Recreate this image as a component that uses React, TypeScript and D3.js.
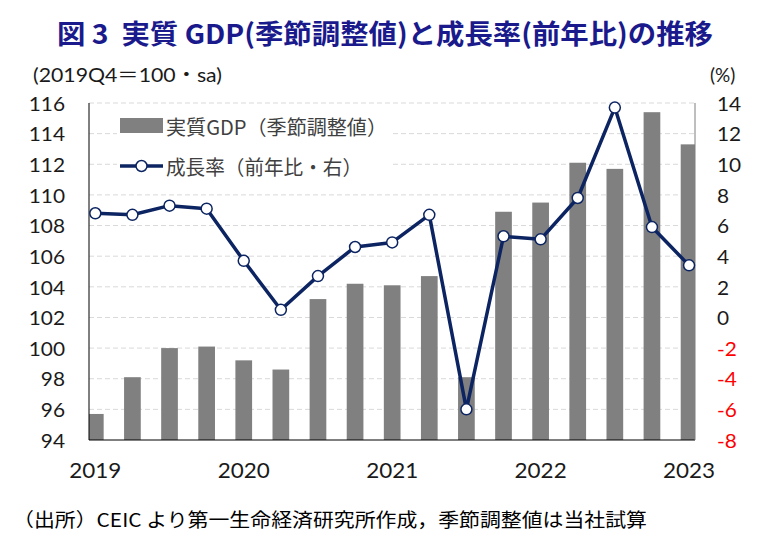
import * as d3 from "d3";

// quarterly series, 2019Q1 .. 2023Q1
const quarters = [
  "2019Q1", "2019Q2", "2019Q3", "2019Q4",
  "2020Q1", "2020Q2", "2020Q3", "2020Q4",
  "2021Q1", "2021Q2", "2021Q3", "2021Q4",
  "2022Q1", "2022Q2", "2022Q3", "2022Q4",
  "2023Q1",
];
// real GDP, seasonally adjusted (2019Q4 = 100)
const gdpLevel = [
  95.7, 98.1, 100.0, 100.1,
  99.2, 98.6, 103.2, 104.2,
  104.1, 104.7, 98.1, 108.9,
  109.5, 112.1, 111.7, 115.4,
  113.3,
];
// growth rate, year on year (%)
const growthYoY = [
  6.8, 6.7, 7.3, 7.1,
  3.7, 0.5, 2.7, 4.6,
  4.9, 6.7, -6.0, 5.3,
  5.1, 7.8, 13.7, 5.9,
  3.4,
];
const leftTicks = [94, 96, 98, 100, 102, 104, 106, 108, 110, 112, 114, 116];
const rightTicks = [-8, -6, -4, -2, 0, 2, 4, 6, 8, 10, 12, 14];
const yearLabels = ["2019", "2020", "2021", "2022", "2023"];

const title = "図 3  実質 GDP(季節調整値)と成長率(前年比)の推移";
const unitLeft = "(2019Q4＝100・sa)";
const unitRight = "(%)";
const legendBar = "実質GDP（季節調整値）";
const legendLine = "成長率（前年比・右）";
const source = "（出所）CEIC より第一生命経済研究所作成，季節調整値は当社試算";

const W = 772;
const H = 540;
const plot = { left: 89, right: 695, top: 103, bottom: 440 };

const NUM_FONT = "Lato, 'Open Sans', sans-serif";
const JP_FONT = "'Noto Sans CJK JP', sans-serif";
const NAVY = "#0c2461";
const BAR = "#808080";
const INK = "#1a1a1a";

// tick label, slightly widened to get the broad digits of the original face
function Num(props: { x: number; y: number; anchor: string; size: number; fill: string; text: string }) {
  return (
    <text
      transform={`translate(${props.x},${props.y}) scale(1.07,1)`}
      textAnchor={props.anchor}
      dominantBaseline="central"
      fontFamily={NUM_FONT}
      fontSize={props.size}
      fill={props.fill}
    >
      {props.text}
    </text>
  );
}

export default function App() {
  const x = d3.scaleLinear().domain([-0.17, 16.16]).range([plot.left, plot.right]);
  const yL = d3.scaleLinear().domain([94, 116]).range([plot.bottom, plot.top]);
  const yR = d3.scaleLinear().domain([-8, 14]).range([plot.bottom, plot.top]);
  const step = x(1) - x(0);
  const barW = step * 0.45;

  const line = d3
    .line<number>()
    .x((_, i) => x(i))
    .y((d) => yR(d));

  return (
    <svg
      width={W}
      height={H}
      style={{ position: "absolute", left: 0, top: 0, background: "#fff" }}
    >
      <defs>
        <clipPath id="plot-clip">
          <rect
            x={plot.left}
            y={plot.top}
            width={plot.right - plot.left}
            height={plot.bottom - plot.top}
          />
        </clipPath>
      </defs>

      {/* title */}
      <text
        x={57}
        y={32}
        dominantBaseline="central"
        fontFamily={JP_FONT}
        fontWeight="bold"
        fontSize={27}
        fill="#1a1a8c"
        textLength={656}
        lengthAdjust="spacingAndGlyphs"
        style={{ whiteSpace: "pre" }}
      >
        {title}
      </text>

      {/* units */}
      <text
        x={33}
        y={74}
        dominantBaseline="central"
        fontFamily={`Lato, ${JP_FONT}`}
        fontSize={19}
        fill={INK}
        textLength={189}
        lengthAdjust="spacingAndGlyphs"
      >
        {unitLeft}
      </text>
      <text
        x={710}
        y={74}
        dominantBaseline="central"
        fontFamily={NUM_FONT}
        fontSize={19}
        fill={INK}
      >
        {unitRight}
      </text>

      {/* gridlines */}
      {leftTicks
        .filter((t) => t !== 94)
        .map((t) => (
          <line
            key={"g" + t}
            x1={plot.left}
            x2={plot.right}
            y1={yL(t)}
            y2={yL(t)}
            stroke="#d9d9d9"
            strokeDasharray="5,3"
          />
        ))}

      {/* bars */}
      <g clipPath="url(#plot-clip)">
        {gdpLevel.map((v, i) => (
          <rect
            key={quarters[i]}
            x={x(i) - barW / 2}
            y={yL(v)}
            width={barW}
            height={yL(94) - yL(v)}
            fill={BAR}
          />
        ))}
      </g>

      {/* axes */}
      <line x1={plot.left} x2={plot.left} y1={plot.top} y2={plot.bottom} stroke="#000" />
      <line x1={plot.left} x2={plot.right} y1={plot.bottom} y2={plot.bottom} stroke="#000" />
      <line x1={plot.right} x2={plot.right} y1={plot.top} y2={plot.bottom} stroke="#7f7f7f" />

      {/* growth line */}
      <path d={line(growthYoY) || ""} fill="none" stroke={NAVY} strokeWidth={3.5} strokeLinejoin="round" />
      {growthYoY.map((v, i) => (
        <circle
          key={"m" + quarters[i]}
          cx={x(i)}
          cy={yR(v)}
          r={5.5}
          fill="#fff"
          stroke={NAVY}
          strokeWidth={1.5}
        />
      ))}

      {/* left tick labels */}
      {leftTicks.map((t) => (
        <Num key={"l" + t} x={65} y={yL(t)} anchor="end" size={19.5} fill={INK} text={String(t)} />
      ))}

      {/* right tick labels */}
      {rightTicks.map((t) => (
        <Num
          key={"r" + t}
          x={717}
          y={yR(t)}
          anchor="start"
          size={19.5}
          fill={t < 0 ? "#ff0000" : INK}
          text={String(t)}
        />
      ))}

      {/* year labels under the Q1 bars */}
      {yearLabels.map((yr, k) => (
        <Num key={yr} x={x(k * 4)} y={470} anchor="middle" size={21} fill={INK} text={yr} />
      ))}

      {/* legend */}
      <rect x={117} y={108} width={273} height={77} fill="#fff" />
      <rect x={120} y={118} width={43} height={15} fill={BAR} />
      <text
        x={166}
        y={126}
        dominantBaseline="central"
        fontFamily={JP_FONT}
        fontSize={20}
        fill="#404040"
        textLength={221}
        lengthAdjust="spacingAndGlyphs"
      >
        {legendBar}
      </text>
      <line x1={120} x2={163} y1={166} y2={166} stroke={NAVY} strokeWidth={3.5} />
      <circle cx={141.5} cy={166} r={5.5} fill="#fff" stroke={NAVY} strokeWidth={1.5} />
      <text
        x={166}
        y={166}
        dominantBaseline="central"
        fontFamily={JP_FONT}
        fontSize={20}
        fill="#404040"
        textLength={196}
        lengthAdjust="spacingAndGlyphs"
      >
        {legendLine}
      </text>

      {/* source note */}
      <text
        x={13}
        y={518}
        dominantBaseline="central"
        fontFamily={JP_FONT}
        fontSize={19}
        fill="#000"
        textLength={634}
        lengthAdjust="spacingAndGlyphs"
      >
        {source}
      </text>
    </svg>
  );
}
